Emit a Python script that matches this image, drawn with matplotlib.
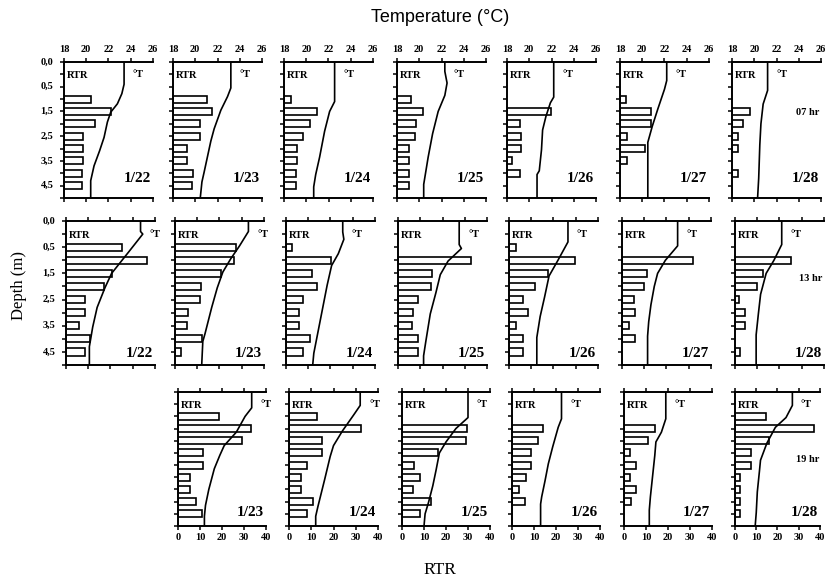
import numpy as np
import matplotlib.pyplot as plt

dates = ['1/22', '1/23', '1/24', '1/25', '1/26', '1/27', '1/28']
hours = ['07 hr', '13 hr', '19 hr']
depth_ticks = [0.0, 1.0, 2.0, 3.0, 4.0, 5.0]
depth_labels = ['0,0', '0,5', '1,5', '2,5', '3,5', '4,5']
temp_ticks = [18, 20, 22, 24, 26]
rtr_ticks = [0, 10, 20, 30, 40]

# ---- 07 hr ----
bar_depth_07 = [[1.5, 2.0, 2.5, 3.0, 3.5, 4.0, 4.5, 5.0],
                [1.5, 2.0, 2.5, 3.0, 3.5, 4.0, 4.5, 5.0],
                [1.5, 2.0, 2.5, 3.0, 3.5, 4.0, 4.5, 5.0],
                [1.5, 2.0, 2.5, 3.0, 3.5, 4.0, 4.5, 5.0],
                [2.0, 2.5, 3.0, 3.5, 4.0, 4.5],
                [1.5, 2.0, 2.5, 3.0, 3.5, 4.0],
                [2.0, 2.5, 3.0, 3.5, 4.5]]
rtr_07 = [[12, 21, 14, 8.5, 8.5, 8.5, 8, 8],
          [15.4, 17.7, 12, 12, 6.1, 6.1, 8.9, 8.4],
          [3.3, 14.8, 11.5, 8.5, 5.8, 6, 5.2, 5.5],
          [6.2, 11.5, 8.5, 8.2, 5.4, 5.4, 5.4, 5.4],
          [19.6, 6.0, 6.4, 6.4, 2.3, 6.0],
          [2.8, 13.8, 13.8, 3.1, 11.2, 3.1],
          [8.1, 5.0, 2.7, 2.7, 2.7]]
t_depth_07 = [[0, 0.9, 1.28, 1.69, 2.03, 2.43, 3.05, 3.59, 4.2, 4.8, 5.5],
              [0, 1.05, 1.4, 1.95, 2.7, 3.2, 4.45, 4.85, 5.5],
              [0, 1.6, 2.0, 2.8, 3.85, 4.55, 5.05, 5.5],
              [0, 0.38, 0.85, 1.35, 2.0, 2.9, 3.85, 4.95, 5.5],
              [0, 1.42, 1.65, 2.2, 2.75, 3.55, 4.4, 4.55, 5.5],
              [0, 0.75, 1.1, 1.9, 2.6, 3.25, 3.55, 5.5],
              [0, 1.15, 1.7, 2.5, 3.35, 4.7, 5.5]]
temp_07 = [[23.4, 23.4, 23.2, 22.8, 22.2, 21.9, 21.6, 21.2, 20.7, 20.4, 20.4],
           [23.2, 23.2, 22.9, 22.3, 21.7, 21.4, 20.8, 20.6, 20.45],
           [22.55, 22.55, 22.1, 21.65, 21.2, 20.85, 20.67, 20.67],
           [22.3, 22.3, 22.5, 22.3, 21.7, 21.2, 20.8, 20.4, 20.4],
           [22.2, 22.2, 21.9, 21.5, 21.2, 21.1, 20.9, 20.7, 20.7],
           [22.2, 22.2, 22.0, 21.4, 20.9, 20.5, 20.5, 20.5],
           [21.2, 21.2, 20.8, 20.6, 20.5, 20.4, 20.3]]

# ---- 13 hr ----
bar_depth_13 = [[1.0, 1.5, 2.0, 2.5, 3.0, 3.5, 4.0, 4.5, 5.0],
                [1.0, 1.5, 2.0, 2.5, 3.0, 3.5, 4.0, 4.5, 5.0],
                [1.0, 1.5, 2.0, 2.5, 3.0, 3.5, 4.0, 4.5, 5.0],
                [1.5, 2.0, 2.5, 3.0, 3.5, 4.0, 4.5, 5.0],
                [1.0, 1.5, 2.0, 2.5, 3.0, 3.5, 4.0, 4.5, 5.0],
                [1.5, 2.0, 2.5, 3.0, 3.5, 4.0, 4.5],
                [1.5, 2.0, 2.5, 3.0, 3.5, 4.0, 5.0]]
rtr_13 = [[25, 36.4, 20.8, 17.3, 8.7, 8.7, 6, 10.9, 8.7],
          [27.5, 26.7, 20.5, 11.5, 11.2, 5.8, 5.3, 12.3, 2.6],
          [2.7, 20.2, 11.6, 14.1, 7.6, 5.8, 5.8, 10.6, 7.6],
          [32.6, 15.4, 14.9, 9.2, 6.9, 6.5, 9.2, 8.9],
          [3.1, 29.7, 17.5, 11.6, 6.2, 8.5, 3.1, 6.5, 6.2],
          [32.1, 11.4, 9.8, 5.4, 5.9, 3.2, 5.9],
          [25.1, 12.8, 10.0, 2.0, 4.6, 4.6, 2.3]]
t_depth_13 = [[0, 0.4, 0.5, 1.2, 2.0, 2.55, 3.3, 4.05, 4.8, 5.5],
              [0, 0.4, 0.95, 1.45, 1.95, 2.55, 3.3, 3.8, 4.3, 4.6, 5.5],
              [0, 0.42, 0.7, 1.25, 1.7, 2.45, 3.1, 3.75, 4.4, 5.05, 5.5],
              [0, 0.9, 1.05, 1.53, 2.05, 2.75, 3.55, 4.6, 5.15, 5.5],
              [0, 0.8, 1.5, 2.1, 2.9, 3.65, 4.45, 4.85, 5.5],
              [0, 0.95, 1.5, 2.0, 2.5, 3.2, 3.85, 4.4, 5.5],
              [0, 0.9, 1.5, 2.0, 2.8, 3.55, 4.35, 5.5]]
temp_13 = [[24.7, 24.7, 24.9, 23.6, 22.1, 21.5, 20.8, 20.4, 20.1, 20.1],
           [24.6, 24.6, 23.8, 23.0, 22.3, 21.8, 21.3, 21.0, 20.7, 20.5, 20.4],
           [23.1, 23.1, 23.2, 22.7, 22.1, 21.7, 21.4, 21.1, 20.8, 20.5, 20.4],
           [23.5, 23.5, 23.7, 22.5, 21.8, 21.4, 20.9, 20.5, 20.3, 20.3],
           [23.3, 23.3, 22.4, 21.6, 21.2, 20.8, 20.5, 20.5, 20.5],
           [23.0, 23.0, 21.9, 21.2, 20.9, 20.6, 20.4, 20.3, 20.3],
           [22.2, 22.2, 21.5, 20.8, 20.3, 20.1, 19.9, 19.9]]

# ---- 19 hr (no 1/22 panel) ----
bar_depth_19 = [None,
                [1.0, 1.5, 2.0, 2.5, 3.0, 3.5, 4.0, 4.5, 5.0],
                [1.0, 1.5, 2.0, 2.5, 3.0, 3.5, 4.0, 4.5, 5.0],
                [1.5, 2.0, 2.5, 3.0, 3.5, 4.0, 4.5, 5.0],
                [1.5, 2.0, 2.5, 3.0, 3.5, 4.0, 4.5],
                [1.5, 2.0, 2.5, 3.0, 3.5, 4.0, 4.5],
                [1.0, 1.5, 2.0, 2.5, 3.0, 3.5, 4.0, 4.5, 5.0]]
rtr_19 = [None,
          [18.8, 33.3, 29, 11.3, 11.3, 5.5, 5.5, 8.3, 11.0],
          [12.4, 32.4, 14.7, 14.7, 7.9, 5.6, 5.6, 10.9, 7.9],
          [29.4, 29.1, 16.4, 5.5, 8.0, 5.2, 13.0, 8.0],
          [14.2, 11.6, 8.5, 8.5, 6.3, 3.0, 6.0],
          [14.0, 11.0, 2.9, 5.6, 2.9, 5.6, 3.4],
          [14.4, 37.1, 15.9, 7.6, 7.6, 2.3, 2.3, 2.3, 2.3]]
t_depth_19 = [None,
              [0, 0.65, 1.0, 1.65, 2.2, 2.6, 3.15, 4.0, 4.65, 5.1, 5.5],
              [0, 0.55, 0.95, 1.6, 2.2, 2.65, 3.6, 4.15, 4.7, 5.1, 5.5],
              [0, 1.05, 1.5, 2.05, 2.5, 3.2, 3.85, 4.55, 5.0, 5.5],
              [0, 1.1, 1.45, 2.25, 2.95, 3.65, 4.3, 4.6, 5.5],
              [0, 1.1, 1.65, 2.05, 2.6, 3.45, 4.3, 4.85, 5.5],
              [0, 0.55, 1.05, 1.45, 2.1, 2.8, 3.25, 4.1, 4.95, 5.5]]
temp_19 = [None,
           [24.7, 24.7, 24.1, 23.3, 22.2, 21.8, 21.3, 20.8, 20.5, 20.4, 20.4],
           [24.4, 24.4, 23.8, 22.8, 22.0, 21.7, 21.2, 20.9, 20.6, 20.4, 20.4],
           [24.0, 24.0, 22.9, 22.0, 21.4, 21.1, 20.8, 20.4, 20.1, 20.0],
           [22.5, 22.5, 22.2, 21.7, 21.3, 21.0, 20.7, 20.6, 20.6],
           [21.8, 21.8, 21.4, 20.9, 20.8, 20.6, 20.4, 20.3, 20.3],
           [23.4, 23.4, 22.8, 21.8, 21.0, 20.4, 20.3, 20.1, 20.0, 19.9]]

bar_depths = [bar_depth_07, bar_depth_13, bar_depth_19]
rtrs = [rtr_07, rtr_13, rtr_19]
t_depths = [t_depth_07, t_depth_13, t_depth_19]
temps = [temp_07, temp_13, temp_19]

# layout in pixels (scanned figure, panels drift slightly)
W, H = 828, 580
row_tops = [62, 221, 392]
row_heights = [136, 144, 134]
col_lefts = [[64, 173, 284, 397, 507, 620, 732],
             [66, 175, 286, 398, 509, 622, 735],
             [None, 178, 289, 402, 512, 624, 735]]
panel_w = [[89] * 7, [89] * 7, [89, 88, 89, 88, 88, 88, 85]]
date_y = [0.14, 0.08, 0.10]
hour_y = [0.63, 0.60, 0.50]

serif = 'Liberation Serif'
tick_font = {'family': serif, 'weight': 'bold', 'size': 7.5}

fig = plt.figure(figsize=(W / 100, H / 100), dpi=100)

for r in range(3):
    for c in range(7):
        if col_lefts[r][c] is None:
            continue
        left, top, h = col_lefts[r][c], row_tops[r], row_heights[r]
        w = panel_w[r][c]
        ax = fig.add_axes([left / W, 1 - (top + h) / H, w / W, h / H])
        ax.barh(bar_depths[r][c], rtrs[r][c], height=0.28, left=0,
                color='white', edgecolor='black', linewidth=1.2, zorder=2)
        ax.set_xlim(0, 40)
        ax.set_ylim(5.5, 0)
        ax.set_xticks(rtr_ticks)
        ax.set_yticks(np.arange(0, 5.6, 0.5))
        ax.set_yticklabels([])
        ax.spines['right'].set_visible(False)
        ax.spines['top'].set_visible(False)
        for s in ['left', 'bottom']:
            ax.spines[s].set_linewidth(1.4)
        ax.tick_params(direction='out', length=3, width=1.1, pad=2)
        if r == 2:
            ax.set_xticklabels([str(v) for v in rtr_ticks], fontdict=tick_font)
        else:
            ax.set_xticklabels([])
        if c == 0:
            for d, lab in zip(depth_ticks, depth_labels):
                ax.text(-0.12, d, lab, transform=ax.get_yaxis_transform(),
                        ha='right', va='center', fontdict=tick_font)

        axT = ax.twiny()
        axT.plot(temps[r][c], t_depths[r][c], color='black', lw=1.2, zorder=3)
        axT.set_xlim(18, 26)
        axT.set_xticks(temp_ticks)
        for s in ['left', 'bottom', 'right']:
            axT.spines[s].set_visible(False)
        axT.spines['top'].set_linewidth(1.4)
        axT.tick_params(direction='out', length=3, width=1.1, pad=3)
        if r == 0:
            axT.set_xticklabels([str(v) for v in temp_ticks], fontdict=tick_font)
        else:
            axT.set_xticklabels([])

        axT.text(18.3, 0.55, 'RTR', ha='left', va='center', family=serif,
                 weight='bold', fontsize=7.5)
        axT.text(temps[r][c][0] + 0.8, 0.5, '°T', ha='left', va='center',
                 family=serif, weight='bold', fontsize=7.5, clip_on=False)
        ax.text(0.82, date_y[r], dates[c], transform=ax.transAxes, ha='center',
                va='center', family=serif, weight='bold', fontsize=11)
        if c == 6:
            ax.text(0.85, hour_y[r], hours[r], transform=ax.transAxes,
                    ha='center', va='center', family=serif, weight='bold',
                    fontsize=7.5)

fig.text(440 / W, 1 - 17 / H, 'Temperature (°C)', ha='center', va='center',
         family='Liberation Sans', fontsize=13)
fig.text(440 / W, 1 - 570 / H, 'RTR', ha='center', va='center',
         family=serif, fontsize=12.5)
fig.text(19 / W, 1 - 285 / H, 'Depth (m)', ha='center', va='center',
         rotation=90, family=serif, fontsize=12)

fig.savefig('out.png', dpi=100)
